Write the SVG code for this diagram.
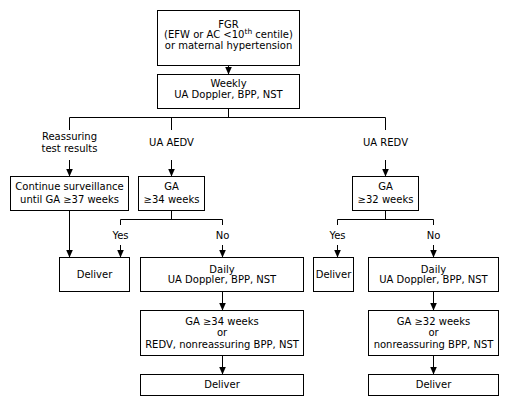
<svg xmlns="http://www.w3.org/2000/svg" width="509" height="407" viewBox="0 0 509 407">
<style>
rect{fill:#fff;stroke:#000;stroke-width:1}
text{font-family:"DejaVu Sans",Verdana,sans-serif;font-size:10px;fill:#000;text-anchor:middle}
.c line,.c path{stroke:#000;stroke-width:1;fill:none}
</style>
<defs>
<marker id="a" markerUnits="userSpaceOnUse" markerWidth="8" markerHeight="7" refX="8" refY="3.5" orient="auto">
<path d="M0,0 L8,3.5 L0,7 z" fill="#000"/>
</marker>
</defs>
<rect width="509" height="407" style="fill:#fff;stroke:none"/>
<g class="c" id="connectors">
<line x1="228.5" y1="65.5" x2="228.5" y2="74.5" marker-end="url(#a)"/>
<path d="M228.5,108.5 V117.5 M69.5,130 V117.5 H385.5 V130 M171.5,117.5 V130"/>
<line x1="69.5" y1="160" x2="69.5" y2="176.5" marker-end="url(#a)"/>
<line x1="171.5" y1="160" x2="171.5" y2="176.5" marker-end="url(#a)"/>
<line x1="385.5" y1="160" x2="385.5" y2="176.5" marker-end="url(#a)"/>
<line x1="69.5" y1="210.5" x2="69.5" y2="257.5" marker-end="url(#a)"/>
<path d="M171.5,210.5 V219.5 M120.5,225 V219.5 H222.5 V225"/>
<line x1="120.5" y1="245" x2="120.5" y2="257.5" marker-end="url(#a)"/>
<line x1="222.5" y1="245" x2="222.5" y2="257.5" marker-end="url(#a)"/>
<path d="M385.5,210.5 V219.5 M337.5,225 V219.5 H433.5 V225"/>
<line x1="337.5" y1="245" x2="337.5" y2="257.5" marker-end="url(#a)"/>
<line x1="433.5" y1="245" x2="433.5" y2="257.5" marker-end="url(#a)"/>
<line x1="222.5" y1="291.5" x2="222.5" y2="310.5" marker-end="url(#a)"/>
<line x1="433.5" y1="291.5" x2="433.5" y2="310.5" marker-end="url(#a)"/>
<line x1="222.5" y1="355.5" x2="222.5" y2="374.5" marker-end="url(#a)"/>
<line x1="433.5" y1="355.5" x2="433.5" y2="374.5" marker-end="url(#a)"/>
</g>
<g id="labels">
<text x="69.5" y="140">Reassuring</text>
<text x="69.5" y="152">test results</text>
<text x="171.5" y="146">UA AEDV</text>
<text x="385.5" y="146">UA REDV</text>
<text x="120.5" y="238.5">Yes</text>
<text x="222.5" y="238.5">No</text>
<text x="337.5" y="238.5">Yes</text>
<text x="433.5" y="238.5">No</text>
</g>
<g id="n1"><rect x="157.5" y="10.5" width="142" height="55"/>
<text x="228.5" y="27.5">FGR</text>
<text x="228.5" y="38">(EFW or AC &lt;10<tspan font-size="7.5" dy="-4">th</tspan><tspan dy="4"> centile)</tspan></text>
<text x="228.5" y="48.5">or maternal hypertension</text></g>
<g id="n2"><rect x="157.5" y="74.5" width="142" height="34"/>
<text x="228.5" y="87">Weekly</text>
<text x="228.5" y="98">UA Doppler, BPP, NST</text></g>
<g id="n3"><rect x="10.5" y="176.5" width="118" height="34"/>
<text x="69.5" y="190">Continue surveillance</text>
<text x="69.5" y="203">until GA ≥37 weeks</text></g>
<g id="n4"><rect x="138.5" y="176.5" width="66" height="34"/>
<text x="171.5" y="190">GA</text>
<text x="171.5" y="203">≥34 weeks</text></g>
<g id="n5"><rect x="352.5" y="176.5" width="66" height="34"/>
<text x="385.5" y="190">GA</text>
<text x="385.5" y="203">≥32 weeks</text></g>
<g id="n6"><rect x="59.5" y="257.5" width="70" height="34"/>
<text x="94.5" y="278">Deliver</text></g>
<g id="n7"><rect x="140.5" y="257.5" width="163" height="34"/>
<text x="222" y="272.5">Daily</text>
<text x="222" y="283">UA Doppler, BPP, NST</text></g>
<g id="n8"><rect x="313.5" y="257.5" width="40" height="34"/>
<text x="333.5" y="278">Deliver</text></g>
<g id="n9"><rect x="368.5" y="257.5" width="130" height="34"/>
<text x="433.5" y="272.5">Daily</text>
<text x="433.5" y="283">UA Doppler, BPP, NST</text></g>
<g id="n10"><rect x="140.5" y="310.5" width="163" height="45"/>
<text x="222" y="324.5">GA ≥34 weeks</text>
<text x="222" y="336">or</text>
<text x="222" y="347.5">REDV, nonreassuring BPP, NST</text></g>
<g id="n11"><rect x="368.5" y="310.5" width="130" height="45"/>
<text x="433.5" y="324.5">GA ≥32 weeks</text>
<text x="433.5" y="336">or</text>
<text x="433.5" y="347.5">nonreassuring BPP, NST</text></g>
<g id="n12"><rect x="140.5" y="374.5" width="163" height="21"/>
<text x="222" y="388">Deliver</text></g>
<g id="n13"><rect x="368.5" y="374.5" width="130" height="21"/>
<text x="433.5" y="388">Deliver</text></g>
</svg>
